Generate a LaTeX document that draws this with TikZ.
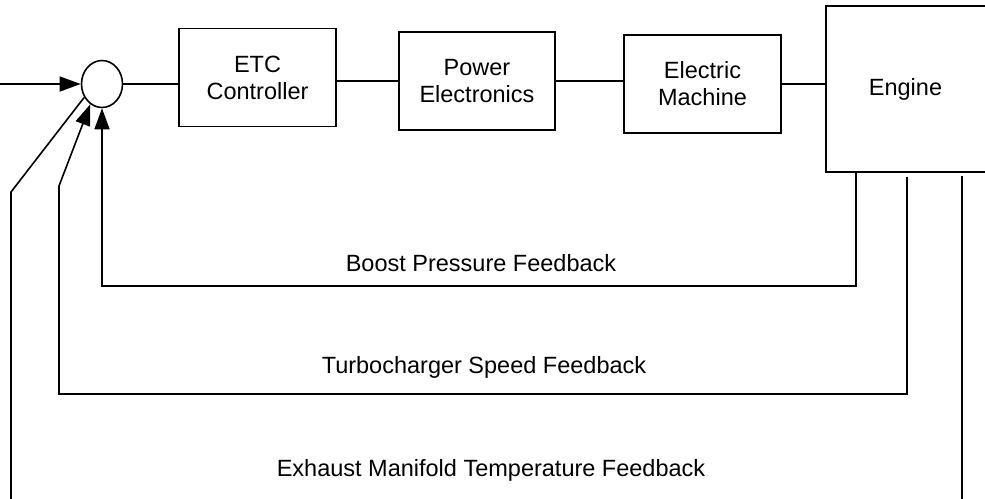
\documentclass[tikz,border=0pt]{standalone}
\usepackage{fontspec}
\setmainfont{Liberation Sans}
\usetikzlibrary{arrows.meta,shapes.geometric}

\tikzset{
  block/.style={draw, line width=1.8pt, rectangle, align=center,
    inner sep=0pt, minimum width=157pt, minimum height=98pt},
  sumpoint/.style={draw, line width=1.6pt, ellipse, inner sep=0pt,
    minimum width=41pt, minimum height=47pt},
  link/.style={line width=1.8pt},
  fback/.style={line width=1.6pt, line join=miter},
  tip/.style={-{Triangle[length=21pt,width=15pt]}},
  fblabel/.style={inner sep=0pt}
}

\begin{document}
\begin{tikzpicture}[
  x=1pt, y=-1pt,
  font=\fontsize{23.5}{27}\selectfont
]
  \useasboundingbox (0,0) rectangle (985,498);

  % Прямая ветвь
  \node[sumpoint] (sum) at (102,84) {};
  \node[block] (etc) at (257.5,77.5) {ETC\\Controller};
  \node[block, minimum width=156pt] (pe) at (477,81) {Power\\Electronics};
  \node[block] (em) at (702.5,84) {Electric\\Machine};
  \node[block, minimum width=164pt, minimum height=166pt] (engine) at (908,89) {};
  \node (enginetext) at (905.5,89) {Engine};

  % Вход
  \coordinate (in) at (0,84);
  \draw[link,tip] (in) -- (sum.west);

  % Связи между блоками
  \draw[link] (sum.east) -- (sum.east -| etc.west);
  \draw[link] (etc.east |- pe.west) -- (pe.west);
  \draw[link] (pe.east) -- (pe.east -| em.west);
  \draw[link] (em.east) -- (em.east -| engine.west);

  % Обратная связь по давлению наддува
  \coordinate (bpR) at (856,286);
  \coordinate (bpL) at (102,286);
  \draw[fback,tip] (engine.south -| bpR) -- (bpR) -- (bpL) -- (sum.south);
  \node[fblabel] (bplabel) at (481,263) {Boost Pressure Feedback};

  % Обратная связь по скорости турбокомпрессора
  \coordinate (tsT) at (907,177);
  \coordinate (tsR) at (907,394);
  \coordinate (tsL) at (59,394);
  \coordinate (tsK) at (59,186);
  \draw[fback,tip] (tsT) -- (tsR) -- (tsL) -- (tsK) -- (sum.240);
  \node[fblabel] (tslabel) at (484,367) {Turbocharger Speed Feedback};

  % Обратная связь по температуре выпускного коллектора
  \coordinate (etT) at (962,176);
  \coordinate (etR) at (962,500);
  \coordinate (etL) at (11,500);
  \coordinate (etK) at (11,192);
  \draw[fback] (etT) -- (etR);
  \draw[fback] (etL) -- (etK) -- (sum.217);
  \node[fblabel] (etlabel) at (491,470) {Exhaust Manifold Temperature Feedback};
\end{tikzpicture}
\end{document}
